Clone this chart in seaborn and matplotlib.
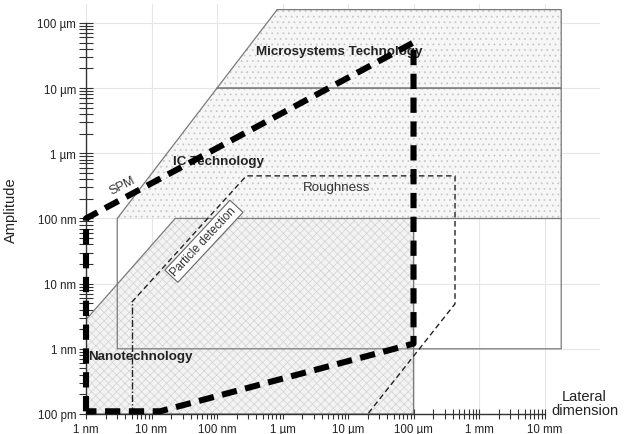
import numpy as np
import matplotlib
matplotlib.use("Agg")
import matplotlib.pyplot as plt
from matplotlib.ticker import FixedLocator, FixedFormatter, NullFormatter
import seaborn as sns

# Application fields, lateral dimension (m) against amplitude (m)
MST_X = [8.3e-7, 1.8e-2, 1.8e-2, 1.0e-7]
MST_Y = [1.6e-4, 1.6e-4, 1.0e-5, 1.0e-5]

IC_X = [1.0e-7, 1.8e-2, 1.8e-2, 3.0e-9, 3.0e-9]
IC_Y = [1.0e-5, 1.0e-5, 1.0e-9, 1.0e-9, 1.0e-7]

NANO_X = [1.0e-9, 1.0e-9, 2.3e-8, 1.0e-4, 1.0e-4]
NANO_Y = [1.0e-10, 2.8e-9, 1.0e-7, 1.0e-7, 1.0e-10]

ROUGH_X = [5.0e-9, 5.0e-9, 2.8e-7, 4.3e-4, 4.3e-4, 2.0e-5]
ROUGH_Y = [1.0e-10, 5.2e-9, 4.5e-7, 4.5e-7, 4.9e-9, 1.0e-10]

SPM_X = [1.0e-9, 1.0e-9, 1.0e-4, 1.0e-4, 1.35e-8]
SPM_Y = [1.1e-10, 1.0e-7, 5.0e-5, 1.2e-9, 1.1e-10]

X_TICKS = [1e-9, 1e-8, 1e-7, 1e-6, 1e-5, 1e-4, 1e-3, 1e-2]
X_LABELS = ["1 nm", "10 nm", "100 nm", "1 µm", "10 µm", "100 µm", "1 mm", "10 mm"]
Y_TICKS = [1e-10, 1e-9, 1e-8, 1e-7, 1e-6, 1e-5, 1e-4]
Y_LABELS = ["100 pm", "1 nm", "10 nm", "100 nm", "1 µm", "10 µm", "100 µm"]

sns.set_theme(style="white")
plt.rcParams["font.family"] = ["Liberation Sans", "DejaVu Sans"]
plt.rcParams["hatch.linewidth"] = 0.5

fig = plt.figure(figsize=(6.28, 4.35), dpi=100)
ax = fig.add_axes([86 / 628, 20 / 435, 514 / 628, 410 / 435])
ax.set_xscale("log")
ax.set_yscale("log")
ax.set_xlim(1e-9, 10 ** -1.153)
ax.set_ylim(1e-10, 10 ** -3.71)

EDGE = "#7a7a7a"

# dotted fill: microsystems and IC band above 100 nm
ax.fill([MST_X[0], MST_X[1], IC_X[2], IC_X[4]],
        [MST_Y[0], MST_Y[1], NANO_Y[2], IC_Y[4]],
        facecolor="#f6f6f6", edgecolor="#c4c4c4", hatch="...", lw=0, zorder=1)
# checkered fill: nanotechnology
ax.fill(NANO_X, NANO_Y, facecolor="#f3f3f3", edgecolor="#d2d2d2",
        hatch="xxxx", lw=0, zorder=1)


def outline(xs, ys, closed=True, **kw):
    xs = list(xs) + ([xs[0]] if closed else [])
    ys = list(ys) + ([ys[0]] if closed else [])
    sns.lineplot(x=xs, y=ys, sort=False, estimator=None, ax=ax, **kw)


outline(MST_X, MST_Y, color=EDGE, lw=0.9, zorder=2)
outline(IC_X, IC_Y, color=EDGE, lw=0.9, zorder=2)
outline(NANO_X, NANO_Y, color=EDGE, lw=0.9, zorder=2)
outline([NANO_X[3], IC_X[1]], [NANO_Y[3], NANO_Y[3]], closed=False,
        color=EDGE, lw=0.9, zorder=2)

# roughness range, dashed, left flank dash-dotted
outline(ROUGH_X[1:], ROUGH_Y[1:], closed=False, color="#222222", lw=1.0,
        linestyle=(0, (4, 2.5)), zorder=3)
outline(ROUGH_X[:2], ROUGH_Y[:2], closed=False, color="#222222", lw=1.0,
        linestyle=(0, (5, 1.5, 1, 1.5)), zorder=3)

# SPM working range
outline(SPM_X, SPM_Y, color="black", lw=4.4, linestyle=(0, (2.5, 1.4)),
        zorder=6, clip_on=False)

# labels
ax.text(10 ** -5.14, 10 ** -4.43, "Microsystems Technology", fontsize=9.6,
        fontweight="bold", ha="center", va="center", color="#222", zorder=5)
ax.text(10 ** -6.98, 10 ** -6.12, "IC Technology", fontsize=9.6,
        fontweight="bold", ha="center", va="center", color="#222", zorder=5)
ax.text(10 ** -8.97, 10 ** -9.11, "Nanotechnology", fontsize=9.6,
        fontweight="bold", ha="left", va="center", color="#222", zorder=5)
ax.text(10 ** -5.18, 10 ** -6.51, "Roughness", fontsize=9.6,
        ha="center", va="center", color="#333", zorder=5)
ax.text(10 ** -8.45, 10 ** -6.49, "SPM", fontsize=9.2, rotation=27,
        ha="center", va="center", color="#333", zorder=5)
ax.text(10 ** -7.20, 10 ** -7.35, "Particle detection", fontsize=8.4,
        rotation=47, ha="center", va="center", color="#333", zorder=5,
        bbox=dict(boxstyle="square,pad=0.25", fc="white", ec="#666", lw=0.8))

# axes
ax.set_axisbelow(True)
ax.grid(True, which="major", color="#e6e6e6", lw=0.8)
for side in ("top", "right"):
    ax.spines[side].set_visible(False)
for side in ("left", "bottom"):
    ax.spines[side].set_color("#333333")
    ax.spines[side].set_linewidth(1.0)
ax.spines["left"].set_bounds(Y_TICKS[0], Y_TICKS[-1])
ax.spines["bottom"].set_bounds(X_TICKS[0], X_TICKS[-1])

ax.xaxis.set_major_locator(FixedLocator(X_TICKS))
ax.xaxis.set_major_formatter(FixedFormatter(X_LABELS))
ax.yaxis.set_major_locator(FixedLocator(Y_TICKS))
ax.yaxis.set_major_formatter(FixedFormatter(Y_LABELS))
x_minor = [m * t for t in X_TICKS[:-1] for m in range(2, 10)]
y_minor = [m * t for t in Y_TICKS[:-1] for m in range(2, 10)]
ax.xaxis.set_minor_locator(FixedLocator(x_minor))
ax.yaxis.set_minor_locator(FixedLocator(y_minor))
ax.xaxis.set_minor_formatter(NullFormatter())
ax.yaxis.set_minor_formatter(NullFormatter())

ax.tick_params(axis="y", which="both", left=True, direction="inout",
               length=10, width=0.8, color="#333", labelsize=8.3,
               labelcolor="#222", pad=2)
ax.tick_params(axis="x", which="both", bottom=True, direction="inout",
               length=7, width=0.8, color="#333", labelsize=8.3,
               labelcolor="#222", pad=3)

ax.set_ylabel("Amplitude", fontsize=10.5, color="#222")
ax.yaxis.set_label_coords(-0.132, 0.5)
ax.set_xlabel("Lateral\ndimension", fontsize=10.5, color="#222",
              linespacing=1.0)
ax.xaxis.set_label_coords(0.97, 0.027)
ax.xaxis.label.set_va("center")

fig.savefig("out.png", dpi=100)
